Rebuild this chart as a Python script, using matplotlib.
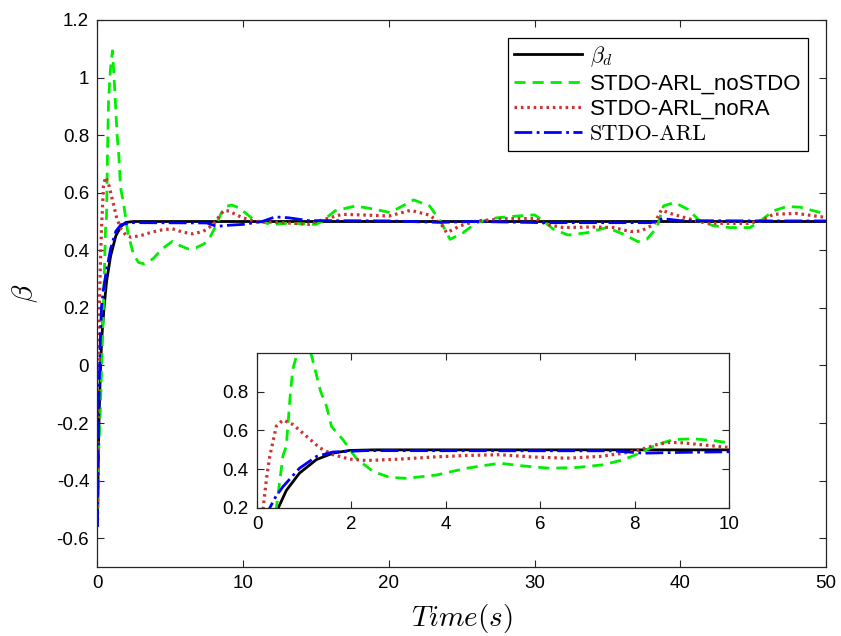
import matplotlib
matplotlib.use("Agg")
import matplotlib.pyplot as plt

plt.rcParams['font.family'] = ['Liberation Sans', 'DejaVu Sans']
plt.rcParams['mathtext.fontset'] = 'cm'
plt.rcParams['axes.unicode_minus'] = False

# desired beta
t_d = [0, 0.05, 0.1, 0.2, 0.3, 0.45, 0.62, 0.9, 1.26, 1.61, 1.96, 2.5, 50]
y_d = [-0.55, -0.35, -0.2, -0.02, 0.1, 0.2, 0.29, 0.38, 0.45, 0.483, 0.497, 0.5, 0.5]

# STDO-ARL_noSTDO
t_g = [0, 0.08, 0.2, 0.3, 0.41, 0.55, 0.62, 0.71, 0.76, 0.89,
       1.03, 1.17, 1.35, 1.47, 1.58, 1.82, 2.1, 2.46, 2.81, 3.17,
       3.8, 4.44, 5.14, 5.64, 6.2, 6.77, 7.34, 7.76, 8.11, 8.47,
       8.82, 9.24, 9.67, 10.0, 10.7, 11.9, 13.2, 15.0, 15.4, 16.3,
       17.7, 19.1, 20.1, 21.7, 22.8, 23.6, 24.2, 25.1, 26.0, 27.4,
       28.8, 30.0, 30.6, 31.3, 32.3, 33.6, 34.96, 36.1, 37.1, 37.7,
       38.4, 38.85, 39.6, 40.5, 41.35, 42.3, 43.4, 44.8, 45.5, 46.4,
       47.3, 48.2, 49.4, 50]
y_g = [-0.56, -0.3, -0.15, 0.02, 0.2, 0.47, 0.518, 0.8, 0.918, 1.03,
       1.093, 0.972, 0.8, 0.727, 0.62, 0.553, 0.457, 0.388, 0.358, 0.353,
       0.37, 0.405, 0.431, 0.417, 0.405, 0.409, 0.423, 0.449, 0.483, 0.527,
       0.553, 0.557, 0.548, 0.536, 0.507, 0.49, 0.494, 0.49, 0.50, 0.537,
       0.554, 0.542, 0.531, 0.575, 0.554, 0.496, 0.438, 0.461, 0.496, 0.513,
       0.519, 0.523, 0.502, 0.473, 0.453, 0.461, 0.479, 0.456, 0.43, 0.438,
       0.479, 0.554, 0.566, 0.543, 0.502, 0.485, 0.479, 0.479, 0.502, 0.537,
       0.552, 0.55, 0.534, 0.527]

# STDO-ARL_noRA
t_r = [0, 0.04, 0.08, 0.13, 0.2, 0.27, 0.41, 0.55,
       0.76, 1.05, 1.33, 1.61, 1.96, 2.32,
       3.02, 3.73, 4.44, 5.14, 5.85, 6.56, 7.27,
       7.76, 8.11, 8.47, 8.75, 9.03, 9.39, 9.92,
       10.8, 12.7, 14.5, 15.6, 16.8, 18.6, 20.0,
       21.5, 22.8, 23.6, 23.97, 24.9, 26,
       28.1, 30.1, 30.8, 31.98, 34.0, 35.4,
       36.6, 37.3, 38.2, 38.7, 39.5, 40.7,
       41.8, 44.6, 45.5, 46.4, 48, 50]
y_r = [-0.56, -0.25, 0.0, 0.2, 0.35, 0.466, 0.623, 0.654,
       0.631, 0.57, 0.51, 0.475, 0.452, 0.445,
       0.452, 0.463, 0.471, 0.475, 0.463, 0.457, 0.466,
       0.483, 0.5, 0.527, 0.539, 0.536, 0.527, 0.514,
       0.5, 0.496, 0.49, 0.508, 0.525, 0.522, 0.519,
       0.539, 0.522, 0.49, 0.461, 0.485, 0.502,
       0.51, 0.51, 0.49, 0.479, 0.481, 0.479,
       0.465, 0.467, 0.49, 0.54, 0.525, 0.508,
       0.494, 0.493, 0.502, 0.525, 0.528, 0.514]

# STDO-ARL
t_b = [0, 0.05, 0.1, 0.17, 0.27, 0.4, 0.55, 0.9, 1.26, 1.61, 2.3, 7.5, 8.2, 9.0, 10.0,
       11.3, 12.2, 13.1, 14.5, 16, 20, 23.5, 26, 30.5, 38, 38.8, 40, 45, 50]
y_b = [-0.56, -0.3, -0.13, 0.05, 0.2, 0.26, 0.31, 0.405, 0.466, 0.489, 0.496, 0.495, 0.483, 0.487, 0.49,
       0.5, 0.516, 0.513, 0.503, 0.503, 0.502, 0.497, 0.5, 0.496, 0.496, 0.51, 0.503, 0.502, 0.502]

green = '#00ee00'
red = '#cc3333'


def draw(ax, lw):
    ax.plot(t_d, y_d, color='black', lw=lw, label=r'$\beta_d$')
    ax.plot(t_g, y_g, color=green, lw=lw, ls=(0, (4, 2.5)), label='STDO-ARL_noSTDO')
    ax.plot(t_r, y_r, color=red, lw=lw + 0.3, ls=(0, (0.8, 1.2)), label='STDO-ARL_noRA')
    ax.plot(t_b, y_b, color='blue', lw=lw, ls='-.', label='STDO-ARL')


def style(ax):
    for s in ax.spines.values():
        s.set_color('#262626')
        s.set_linewidth(0.9)
    ax.tick_params(direction='in', top=True, right=True, length=5, width=0.8, pad=6,
                   labelsize=13.5, colors='#262626', labelcolor='black')


fig = plt.figure(figsize=(8.41, 6.36), dpi=100)
ax = fig.add_axes([0.1159, 0.1085, 0.8662, 0.8601])
draw(ax, 2.0)
ax.set_xlim(0, 50)
ax.set_ylim(-0.7, 1.2)
ax.set_xticks([0, 10, 20, 30, 40, 50])
ax.set_yticks([-0.6, -0.4, -0.2, 0, 0.2, 0.4, 0.6, 0.8, 1, 1.2])
ax.set_yticklabels(['-0.6', '-0.4', '-0.2', '0', '0.2', '0.4', '0.6', '0.8', '1', '1.2'])
style(ax)
ax.set_xlabel(r'$Time(s)$', fontsize=21, labelpad=7)
ax.set_ylabel(r'$\beta$', fontsize=21, labelpad=12)

leg = ax.legend(loc='upper right', fontsize=16, fancybox=False, edgecolor='black',
                framealpha=1, borderaxespad=0.8, handlelength=3.05, handletextpad=0.35,
                labelspacing=0.2, borderpad=0.3)
leg.get_frame().set_linewidth(0.9)
leg.get_texts()[3].set_fontfamily('cmr10')

axin = fig.add_axes([0.3056, 0.2013, 0.5612, 0.2437])
draw(axin, 2.0)
axin.set_xlim(0, 10)
axin.set_ylim(0.2, 1.0)
axin.set_xticks([0, 2, 4, 6, 8, 10])
axin.set_yticks([0.2, 0.4, 0.6, 0.8])
axin.set_yticklabels(['0.2', '0.4', '0.6', '0.8'])
style(axin)

fig.savefig('out.png', dpi=100)
